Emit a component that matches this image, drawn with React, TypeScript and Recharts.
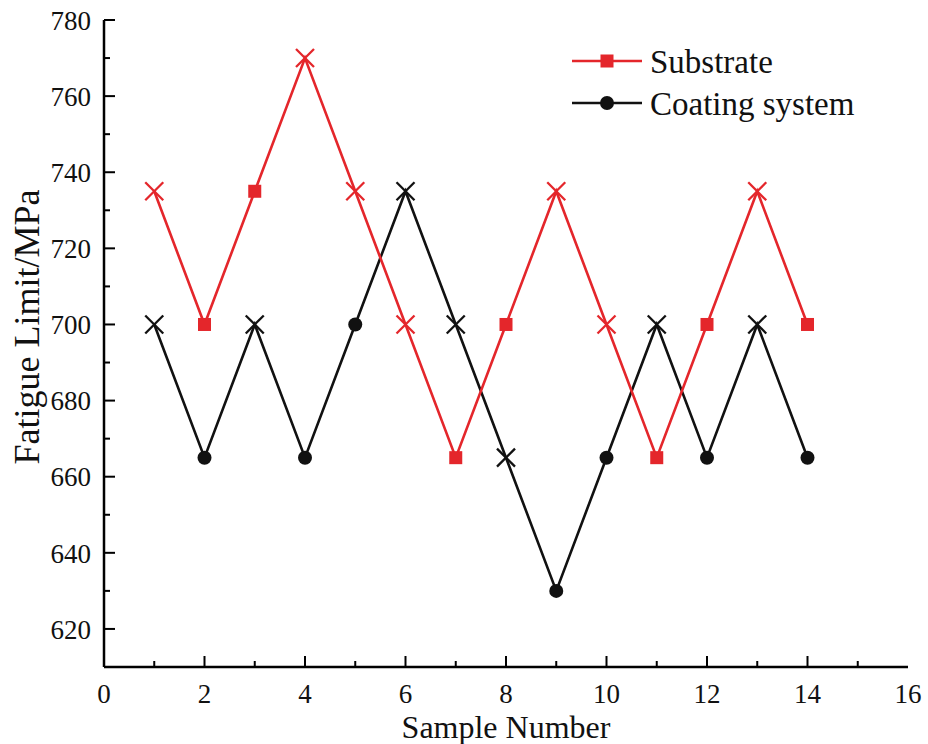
import { LineChart, Line, XAxis, YAxis, Label } from 'recharts'

const samples = [1, 2, 3, 4, 5, 6, 7, 8, 9, 10, 11, 12, 13, 14]
const substrate = [735, 700, 735, 770, 735, 700, 665, 700, 735, 700, 665, 700, 735, 700]
// 'x' = cross, 's' = filled square
const substrateMarks = ['x', 's', 's', 'x', 'x', 'x', 's', 's', 'x', 'x', 's', 's', 'x', 's']
const coating = [700, 665, 700, 665, 700, 735, 700, 665, 630, 665, 700, 665, 700, 665]
// 'x' = cross, 'o' = filled circle
const coatingMarks = ['x', 'o', 'x', 'o', 'o', 'x', 'x', 'x', 'o', 'o', 'x', 'o', 'x', 'o']
const xTicks = [0, 1, 2, 3, 4, 5, 6, 7, 8, 9, 10, 11, 12, 13, 14, 15, 16]
const yTicks = [620, 630, 640, 650, 660, 670, 680, 690, 700, 710, 720, 730, 740, 750, 760, 770, 780]

const RED = '#e4262b'
const BLACK = '#111'
const FONT = '"Liberation Serif", "Times New Roman", serif'

const data = samples.map((s, i) => ({ sample: s, substrate: substrate[i], coating: coating[i] }))

function Marker({ cx, cy, kind, color }: { cx: number; cy: number; kind: string; color: string }) {
  if (kind === 'x') {
    const r = 9
    return (
      <g stroke={color} strokeWidth={2.3}>
        <line x1={cx - r} y1={cy - r} x2={cx + r} y2={cy + r} />
        <line x1={cx - r} y1={cy + r} x2={cx + r} y2={cy - r} />
      </g>
    )
  }
  if (kind === 's') return <rect x={cx - 6.5} y={cy - 6.5} width={13} height={13} fill={color} />
  return <circle cx={cx} cy={cy} r={7} fill={color} />
}

const dotFor = (marks: string[], color: string) => (p: any) => (
  <Marker key={`${color}-${p.index}`} cx={p.cx} cy={p.cy} kind={marks[p.index]} color={color} />
)

function YTick(props: any) {
  const { x, y, payload } = props
  const major = payload.value % 20 === 0
  return (
    <g>
      <line x1={x} y1={y} x2={x + (major ? 11 : 6)} y2={y} stroke="#000" strokeWidth={2} />
      {major && (
        <text x={x - 13} y={y} dy="0.36em" textAnchor="end" fontSize={27} fontFamily={FONT} fill="#111">
          {payload.value}
        </text>
      )}
    </g>
  )
}

function XTick(props: any) {
  const { x, y, payload } = props
  const major = payload.value % 2 === 0
  const edge = payload.value === 0 || payload.value === 16
  return (
    <g>
      {!edge && <line x1={x} y1={y} x2={x} y2={y - (major ? 11 : 6)} stroke="#000" strokeWidth={2} />}
      {major && (
        <text x={x} y={y + 36} textAnchor="middle" fontSize={27} fontFamily={FONT} fill="#111">
          {payload.value}
        </text>
      )}
    </g>
  )
}

function YTitle() {
  return (
    <text
      transform="translate(39, 327) rotate(-90)" textAnchor="middle"
      fontSize={36} fontFamily={FONT} fill="#111"
    >
      Fatigue Limit/MPa
    </text>
  )
}

function LegendBox() {
  return (
    <svg width={320} height={100} style={{ position: 'absolute', left: 560, top: 30, fontFamily: FONT }}>
      <line x1={12} y1={31} x2={82} y2={31} stroke={RED} strokeWidth={2.5} />
      <rect x={40.5} y={24.5} width={13} height={13} fill={RED} />
      <text x={90} y={43} fontSize={33} fill="#111">Substrate</text>
      <line x1={12} y1={73} x2={82} y2={73} stroke={BLACK} strokeWidth={2.5} />
      <circle cx={47} cy={73} r={7} fill={BLACK} />
      <text x={90} y={85} fontSize={33} fill="#111">Coating system</text>
    </svg>
  )
}

export default function App() {
  return (
    <div style={{ position: 'absolute', left: 0, top: 0, width: 928, height: 744, background: '#fff' }}>
      <LineChart width={928} height={744} data={data} margin={{ top: 20, right: 20, bottom: 0, left: 0 }}>
        <XAxis
          dataKey="sample" type="number" domain={[0, 16]} ticks={xTicks} interval={0}
          height={77} tickSize={0} tickMargin={0} tick={<XTick />}
          axisLine={{ stroke: '#000', strokeWidth: 2.5 }}
        >
          <Label value="Sample Number" position="insideBottom" offset={6} fontSize={32} fontFamily={FONT} fill="#111" />
        </XAxis>
        <XAxis
          xAxisId="top" orientation="top" type="number" domain={[0, 16]} height={0}
          tick={false} tickLine={false} axisLine={{ stroke: '#000', strokeWidth: 2.5 }}
        />
        <YAxis
          type="number" domain={[610, 780]} ticks={yTicks} interval={0} width={104}
          tickSize={0} tickMargin={0} tick={<YTick />}
          axisLine={{ stroke: '#000', strokeWidth: 2.5 }}
        >
          <Label content={<YTitle />} />
        </YAxis>
        <YAxis
          yAxisId="right" orientation="right" type="number" domain={[610, 780]} width={0}
          tick={false} tickLine={false} axisLine={{ stroke: '#000', strokeWidth: 2.5 }}
        />
        <Line
          dataKey="coating" stroke={BLACK} strokeWidth={2.6} isAnimationActive={false}
          dot={dotFor(coatingMarks, BLACK)} activeDot={false}
        />
        <Line
          dataKey="substrate" stroke={RED} strokeWidth={2.6} isAnimationActive={false}
          dot={dotFor(substrateMarks, RED)} activeDot={false}
        />
      </LineChart>
      <LegendBox />
    </div>
  )
}
